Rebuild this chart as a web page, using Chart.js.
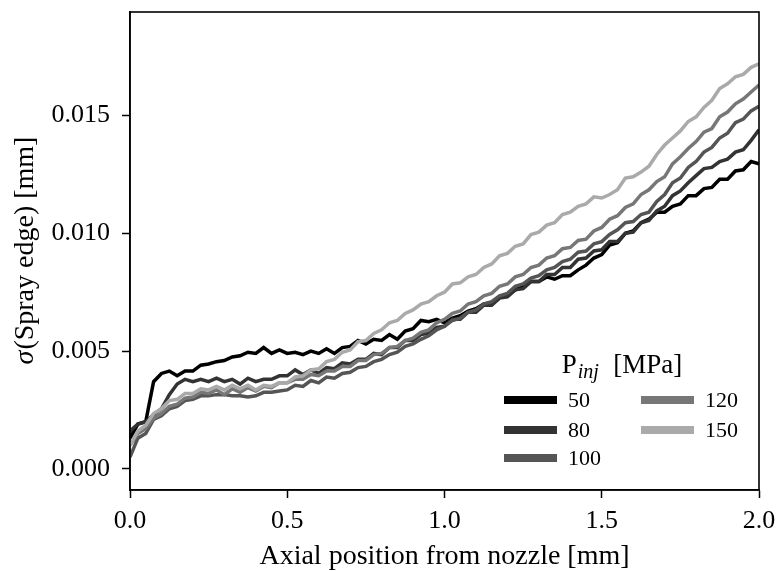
<!DOCTYPE html>
<html>
<head>
<meta charset="utf-8">
<title>Spray edge sigma</title>
<script src="https://cdn.jsdelivr.net/npm/chart.js@4.4.1/dist/chart.umd.min.js"></script>
<style>
    html, body { margin: 0; padding: 0; background: #fff; }
    #wrap { width: 777px; height: 571px; }
</style>
</head>
<body>
<div id="wrap"><canvas id="sprayChart" width="777" height="571"></canvas></div>
<script>
// Axial position from nozzle [mm]
const axialPos = [
    0.000, 0.025, 0.050, 0.075, 0.100, 0.125, 0.150, 0.175, 0.200, 0.225,
    0.250, 0.275, 0.300, 0.325, 0.350, 0.375, 0.400, 0.425, 0.450, 0.475,
    0.500, 0.525, 0.550, 0.575, 0.600, 0.625, 0.650, 0.675, 0.700, 0.725,
    0.750, 0.775, 0.800, 0.825, 0.850, 0.875, 0.900, 0.925, 0.950, 0.975,
    1.000, 1.025, 1.050, 1.075, 1.100, 1.125, 1.150, 1.175, 1.200, 1.225,
    1.250, 1.275, 1.300, 1.325, 1.350, 1.375, 1.400, 1.425, 1.450, 1.475,
    1.500, 1.525, 1.550, 1.575, 1.600, 1.625, 1.650, 1.675, 1.700, 1.725,
    1.750, 1.775, 1.800, 1.825, 1.850, 1.875, 1.900, 1.925, 1.950, 1.975,
    2.000
];

// injection pressures [MPa]
const pressures = ["50", "80", "100", "120", "150"];

// sigma of the spray edge, in units of 1e-3 mm
const sigma50 = [
    1.3, 1.9, 2.0, 3.7, 4.05, 4.15, 3.95, 4.15, 4.15, 4.4,
    4.45, 4.55, 4.6, 4.75, 4.8, 4.95, 4.9, 5.15, 4.9, 5.05,
    4.9, 4.95, 4.85, 5.0, 4.9, 5.1, 4.9, 5.15, 5.2, 5.45,
    5.3, 5.5, 5.45, 5.7, 5.5, 5.85, 5.95, 6.3, 6.25, 6.35,
    6.2, 6.4, 6.5, 6.7, 6.8, 7.0, 7.05, 7.3, 7.4, 7.6,
    7.75, 7.95, 7.95, 8.15, 8.05, 8.2, 8.2, 8.45, 8.65, 8.95,
    9.1, 9.5, 9.6, 10.0, 10.1, 10.45, 10.6, 10.9, 10.9, 11.15,
    11.25, 11.6, 11.6, 11.9, 11.95, 12.3, 12.3, 12.65, 12.7, 13.05,
    12.95
];
const sigma80 = [
    1.6, 1.9, 2.0, 2.3, 2.55, 3.15, 3.6, 3.8, 3.7, 3.8,
    3.7, 3.85, 3.7, 3.8, 3.6, 3.85, 3.7, 3.8, 3.8, 3.95,
    3.95, 4.2, 4.0, 4.2, 4.05, 4.3, 4.25, 4.5, 4.45, 4.65,
    4.65, 4.9, 4.85, 5.15, 5.15, 5.45, 5.45, 5.7, 5.75, 6.0,
    6.05, 6.35, 6.35, 6.65, 6.65, 6.95, 6.95, 7.25, 7.3, 7.6,
    7.65, 7.95, 7.95, 8.25, 8.25, 8.55, 8.55, 8.9, 8.95, 9.25,
    9.3, 9.65, 9.65, 10.0, 10.05, 10.45, 10.55, 10.95, 11.15, 11.6,
    11.8, 12.15, 12.45, 12.75, 12.8, 13.05, 13.15, 13.45, 13.55, 13.95,
    14.4
];
const sigma100 = [
    0.5, 1.3, 1.5, 2.1, 2.25, 2.55, 2.65, 2.9, 2.95, 3.1,
    3.1, 3.15, 3.15, 3.1, 3.1, 3.05, 3.1, 3.25, 3.25, 3.3,
    3.35, 3.55, 3.5, 3.75, 3.65, 3.9, 3.85, 4.05, 4.1, 4.3,
    4.35, 4.55, 4.65, 4.85, 4.95, 5.2, 5.3, 5.5, 5.65, 5.9,
    6.05, 6.3, 6.4, 6.65, 6.75, 7.0, 7.1, 7.35, 7.45, 7.75,
    7.85, 8.1, 8.2, 8.45, 8.55, 8.8, 8.9, 9.2, 9.25, 9.55,
    9.65, 9.95, 10.15, 10.45, 10.5, 10.8, 10.9, 11.35, 11.65, 12.15,
    12.35, 12.8, 13.05, 13.45, 13.65, 14.05, 14.25, 14.7, 14.85, 15.2,
    15.4
];
const sigma120 = [
    1.0, 1.5, 1.7, 2.15, 2.35, 2.65, 2.75, 3.0, 3.05, 3.25,
    3.2, 3.35, 3.15, 3.4, 3.25, 3.45, 3.3, 3.5, 3.45, 3.65,
    3.65, 3.8, 3.8, 4.0, 3.95, 4.15, 4.15, 4.35, 4.35, 4.6,
    4.6, 4.85, 4.9, 5.15, 5.2, 5.45, 5.55, 5.8, 5.9, 6.2,
    6.35, 6.6, 6.7, 7.0, 7.1, 7.35, 7.45, 7.75, 7.85, 8.15,
    8.25, 8.55, 8.65, 8.95, 9.05, 9.35, 9.4, 9.7, 9.75, 10.1,
    10.25, 10.6, 10.75, 11.1, 11.25, 11.65, 11.85, 12.2, 12.4, 12.95,
    13.25, 13.6, 13.9, 14.3, 14.45, 14.95, 15.15, 15.5, 15.7, 16.0,
    16.3
];
const sigma150 = [
    1.0, 1.6, 1.85, 2.35, 2.55, 2.9, 2.95, 3.2, 3.2, 3.4,
    3.35, 3.5, 3.35, 3.55, 3.4, 3.55, 3.35, 3.55, 3.5, 3.65,
    3.65, 3.9, 3.95, 4.2, 4.25, 4.55, 4.65, 4.95, 5.05, 5.4,
    5.45, 5.75, 5.9, 6.2, 6.3, 6.6, 6.75, 7.0, 7.1, 7.35,
    7.5, 7.85, 7.9, 8.15, 8.25, 8.55, 8.7, 9.05, 9.15, 9.45,
    9.55, 9.95, 10.05, 10.35, 10.45, 10.8, 10.9, 11.15, 11.25, 11.55,
    11.5, 11.65, 11.85, 12.35, 12.4, 12.6, 12.85, 13.35, 13.75, 14.05,
    14.35, 14.75, 14.95, 15.35, 15.65, 16.15, 16.35, 16.65, 16.75, 17.05,
    17.2
];

const lineColors = ["#000000", "#333333", "#555555", "#777777", "#aaaaaa"];
const xTicks = [0.0, 0.5, 1.0, 1.5, 2.0];
const yTicks = [0.000, 0.005, 0.010, 0.015];

const serif = "'Liberation Serif', 'Times New Roman', serif";
const allSeries = [sigma50, sigma80, sigma100, sigma120, sigma150];

// turn the read values into {x, y} points in mm
function toPoints(series) {
    return series.map((v, i) => ({ x: axialPos[i], y: v / 1000 }));
}

// frame, y axis title and the two-column legend
const decorations = {
    id: "decorations",
    afterDraw(chart) {
        const ctx = chart.ctx;
        const area = chart.chartArea;
        ctx.save();

        // box around the plot
        ctx.strokeStyle = "#000";
        ctx.lineWidth = 1.6;
        ctx.strokeRect(area.left, area.top, area.right - area.left, area.bottom - area.top);

        // y axis title with italic sigma
        ctx.fillStyle = "#000";
        ctx.textBaseline = "middle";
        ctx.translate(26, (area.top + area.bottom) / 2);
        ctx.rotate(-Math.PI / 2);
        const italic = "italic 28px " + serif;
        const upright = "28px " + serif;
        ctx.font = italic;
        const wSig = ctx.measureText("σ").width;
        ctx.font = upright;
        const rest = "(Spray edge) [mm]";
        const wRest = ctx.measureText(rest).width;
        let x0 = -(wSig + wRest) / 2;
        ctx.font = italic;
        ctx.textAlign = "left";
        ctx.fillText("σ", x0, 0);
        ctx.font = upright;
        ctx.fillText(rest, x0 + wSig + 1, 0);
        ctx.setTransform(1, 0, 0, 1, 0, 0);

        // legend title: P_inj [MPa]
        ctx.textBaseline = "alphabetic";
        ctx.font = "27px " + serif;
        const wP = ctx.measureText("P").width;
        ctx.font = "italic 20px " + serif;
        const wSub = ctx.measureText("inj").width;
        ctx.font = "27px " + serif;
        const wUnit = ctx.measureText("  [MPa]").width;
        const tx = area.right - 137 - (wP + wSub + 2 + wUnit) / 2;
        const baseY = area.bottom - 117;
        ctx.fillText("P", tx, baseY);
        ctx.font = "italic 20px " + serif;
        ctx.fillText("inj", tx + wP + 1, baseY + 5);
        ctx.font = "27px " + serif;
        ctx.fillText("  [MPa]", tx + wP + wSub + 2, baseY);

        // legend entries, filled column by column
        const colX = [area.right - 255, area.right - 118];
        const rowY = [area.bottom - 90, area.bottom - 60, area.bottom - 32];
        ctx.font = "22px " + serif;
        ctx.textBaseline = "middle";
        chart.data.datasets.forEach((ds, i) => {
            const col = i < 3 ? 0 : 1;
            const row = i < 3 ? i : i - 3;
            const hx = colX[col];
            const hy = rowY[row];
            ctx.fillStyle = ds.borderColor;
            ctx.fillRect(hx, hy - 4, 53, 8);
            ctx.fillStyle = "#000";
            ctx.fillText(ds.label, hx + 64, hy + 1);
        });
        ctx.restore();
    }
};

const ctx = document.getElementById("sprayChart").getContext("2d");
new Chart(ctx, {
    type: "line",
    data: {
        datasets: allSeries.map((s, i) => ({
            label: pressures[i],
            data: toPoints(s),
            borderColor: lineColors[i],
            backgroundColor: lineColors[i],
            borderWidth: 3.5,
            pointRadius: 0,
            tension: 0,
            fill: false,
            order: -i
        }))
    },
    options: {
        responsive: false,
        animation: false,
        devicePixelRatio: 1,
        layout: { padding: { top: 12, right: 18, left: 0, bottom: 0 } },
        plugins: {
            legend: { display: false },
            tooltip: { enabled: false }
        },
        scales: {
            x: {
                type: "linear",
                min: 0,
                max: 2,
                afterBuildTicks: s => { s.ticks = xTicks.map(v => ({ value: v })); },
                afterFit: s => { s.height = 81; s.paddingLeft = 0; s.paddingRight = 0; },
                ticks: {
                    callback: v => v.toFixed(1),
                    color: "#000",
                    font: { family: serif, size: 26 },
                    padding: 8,
                    maxRotation: 0,
                    autoSkip: false
                },
                grid: { drawOnChartArea: false, drawTicks: true, tickLength: 8, tickWidth: 1.5, color: "#000" },
                border: { display: true, color: "#000", width: 1.6 },
                title: {
                    display: true,
                    text: "Axial position from nozzle [mm]",
                    color: "#000",
                    font: { family: serif, size: 28, lineHeight: 1 },
                    padding: { top: 0, bottom: 0 }
                }
            },
            y: {
                min: -0.0009,
                max: 0.0194,
                afterBuildTicks: s => { s.ticks = yTicks.map(v => ({ value: v })); },
                afterFit: s => { s.width = 130; s.paddingTop = 0; s.paddingBottom = 0; },
                ticks: {
                    callback: v => v.toFixed(3),
                    color: "#000",
                    font: { family: serif, size: 26 },
                    padding: 12
                },
                grid: { drawOnChartArea: false, drawTicks: true, tickLength: 8, tickWidth: 1.5, color: "#000" },
                border: { display: true, color: "#000", width: 1.6 }
            }
        }
    },
    plugins: [decorations]
});
</script>
</body>
</html>
